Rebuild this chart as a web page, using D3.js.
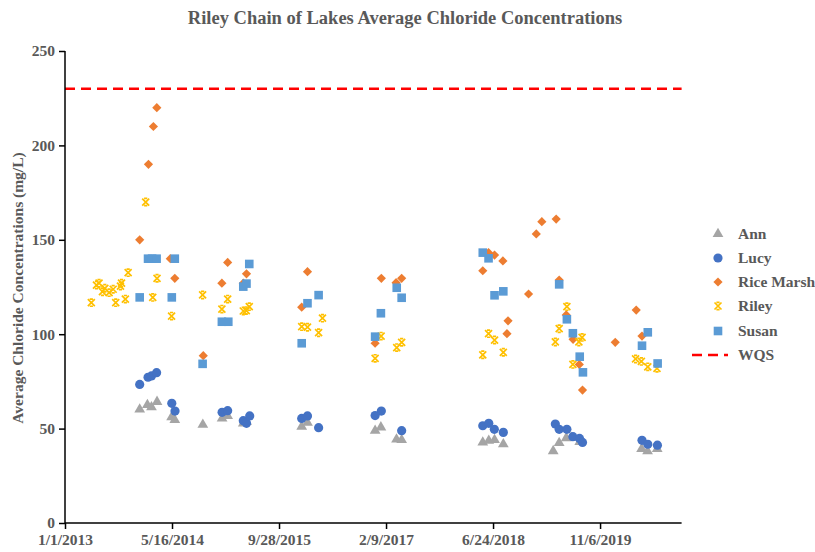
<!DOCTYPE html>
<html><head><meta charset="utf-8">
<script src="https://cdn.jsdelivr.net/npm/d3@7"></script>
<style>
body{margin:0;background:#fff;}
text{font-family:"Liberation Serif","Times New Roman",Times,serif;font-weight:bold;fill:#595959;}
</style></head>
<body><svg id="chart" width="815" height="552"></svg>
<script>
// ---------- data ----------
const title = "Riley Chain of Lakes Average Chloride Concentrations";
const yTitle = "Average Chloride Concentrations (mg/L)";
const seriesNames = ["Ann","Lucy","Rice Marsh","Riley","Susan"];
const seriesColors = ["#A5A5A5","#4472C4","#ED7D31","#FFC000","#5B9BD5"];
const wqsValue = 230;
const yTicks = [0,50,100,150,200,250];
const xTickDates = ["2013-01-01","2014-05-16","2015-09-28","2017-02-09","2018-06-24","2019-11-06"];

const ann = [
 ["2013-12-16",60.2],["2014-01-21",62.5],["2014-02-09",61.3],["2014-03-07",64.2],
 ["2014-05-14",56.0],["2014-05-29",54.6],["2014-10-07",52.1],["2015-01-05",55.4],
 ["2015-01-31",56.7],["2015-04-14",52.8],["2015-04-29",53.5],["2016-01-12",51.1],
 ["2016-02-08",53.1],["2016-12-20",48.9],["2017-01-16",50.7],["2017-03-30",44.3],
 ["2017-04-23",44.0],["2018-05-07",42.7],["2018-06-04",43.6],["2018-07-01",44.0],
 ["2018-08-11",41.8],["2019-04-01",38.1],["2019-04-29",42.4],["2019-06-01",45.0],
 ["2019-06-24",45.2],["2019-08-03",43.0],["2020-05-18",39.2],["2020-06-15",38.0],["2020-07-30",39.2]
];
const lucy = [
 ["2013-12-16",73.4],["2014-01-24",77.2],["2014-02-09",77.9],["2014-03-05",79.6],
 ["2014-05-15",63.4],["2014-05-30",59.3],["2015-01-05",58.6],["2015-01-31",59.5],
 ["2015-04-14",54.2],["2015-04-29",52.8],["2015-05-14",56.7],["2016-01-12",55.4],
 ["2016-02-08",56.7],["2016-03-31",50.5],["2016-12-20",56.9],["2017-01-18",59.3],
 ["2017-04-23",48.9],["2018-05-07",51.5],["2018-06-04",52.8],["2018-06-30",49.6],
 ["2018-08-11",48.0],["2019-04-11",52.4],["2019-04-29",49.6],["2019-06-04",49.6],
 ["2019-07-02",45.7],["2019-08-02",44.8],["2019-08-16",42.7],["2020-05-20",43.8],
 ["2020-06-16",41.7],["2020-07-31",41.2]
];
const riceMarsh = [
 ["2013-12-16",150],["2014-01-26",190],["2014-02-18",210],["2014-03-06",220],
 ["2014-05-08",140],["2014-05-29",129.6],["2014-10-09",88.6],["2015-01-04",127],
 ["2015-01-31",138],["2015-04-14",127],["2015-04-29",132],["2016-01-12",114.3],
 ["2016-02-08",133.1],["2016-12-20",95.2],["2017-01-18",129.6],["2017-03-28",127.3],
 ["2017-04-23",129.6],["2018-05-07",133.6],["2018-06-03",143.2],["2018-07-01",141.9],
 ["2018-08-09",138.8],["2018-08-28",100.3],["2018-09-02",107.1],["2018-12-07",121.3],
 ["2019-01-12",153.1],["2019-02-07",159.6],["2019-04-15",161],["2019-04-29",128.7],
 ["2019-06-01",110.2],["2019-07-03",97.3],["2019-08-01",84],["2019-08-16",70.4],
 ["2020-01-16",95.7],["2020-04-23",112.8],["2020-05-20",99]
];
const riley = [
 ["2013-05-04",116.7],["2013-05-28",126],["2013-06-09",127],["2013-06-25",122.5],
 ["2013-07-06",124.3],["2013-07-26",122],["2013-08-14",123.8],["2013-08-26",116.7],
 ["2013-09-17",125.5],["2013-09-22",127],["2013-10-10",118.6],["2013-10-23",132.6],
 ["2014-01-13",170],["2014-02-15",119.5],["2014-03-07",129.6],["2014-05-14",109.6],
 ["2014-10-06",120.8],["2015-01-04",113.3],["2015-01-31",118.6],["2015-04-14",112.3],
 ["2015-04-28",112.5],["2015-05-12",114.6],["2016-01-12",104],["2016-02-08",103.7],
 ["2016-03-31",100.8],["2016-04-18",108.5],["2016-12-20",87.2],["2017-01-17",99],
 ["2017-03-31",92.9],["2017-04-23",95.7],["2018-05-07",89.1],["2018-06-03",100.3],
 ["2018-07-01",96.9],["2018-08-11",90.4],["2019-04-11",95.9],["2019-04-29",102.9],
 ["2019-06-04",114.6],["2019-07-02",84],["2019-07-30",95.9],["2019-08-14",98.3],
 ["2020-04-20",86.9],["2020-05-17",85.6],["2020-06-16",82.7],["2020-07-29",81.9]
];
const susan = [
 ["2013-12-16",119.5],["2014-01-24",140],["2014-02-12",140],["2014-03-05",140],
 ["2014-05-15",119.5],["2014-05-29",140],["2014-10-06",84.3],["2015-01-04",106.6],
 ["2015-02-03",106.6],["2015-04-14",125.2],["2015-04-29",126.8],["2015-05-12",137.2],
 ["2016-01-12",95.2],["2016-02-08",116.4],["2016-03-31",120.7],["2016-12-20",98.7],
 ["2017-01-16",111.1],["2017-03-31",124.6],["2017-04-23",119.3],["2018-05-07",143.2],
 ["2018-06-03",140.2],["2018-07-01",120.6],["2018-08-11",122.7],["2019-04-29",126.4],
 ["2019-06-04",107.9],["2019-07-02",100.5],["2019-08-03",88.1],["2019-08-18",79.8],
 ["2020-05-20",93.9],["2020-06-16",101],["2020-08-01",84.5]
];
const seriesData = [ann, lucy, riceMarsh, riley, susan];

// ---------- layout ----------
const svg = d3.select("#chart");
const parse = d3.utcParse("%Y-%m-%d");
const pLeft = 65, pRight = 681.6, pTop = 51, pBottom = 523;
const x = d3.scaleUtc().domain([parse("2013-01-01"), parse("2020-11-21")]).range([pLeft, pRight]);
const y = d3.scaleLinear().domain([0,250]).range([pBottom, pTop]);
const fmt = d => (d.getUTCMonth()+1)+"/"+d.getUTCDate()+"/"+d.getUTCFullYear();

svg.append("text").attr("x",405).attr("y",24).attr("text-anchor","middle")
  .style("font-size","18.5px").text(title);

svg.append("text").attr("transform","translate(23,288) rotate(-90)")
  .attr("text-anchor","middle").style("font-size","15.5px").text(yTitle);

// WQS line
svg.append("line").attr("x1",pLeft).attr("x2",pRight)
  .attr("y1",y(wqsValue)).attr("y2",y(wqsValue))
  .attr("stroke","#FF0000").attr("stroke-width",2.5).attr("stroke-dasharray","10,6");

// axes
const yAxis = d3.axisLeft(y).tickValues(yTicks).tickSize(6).tickPadding(4);
const gy = svg.append("g").attr("transform",`translate(${pLeft},0)`).call(yAxis);
const xAxis = d3.axisBottom(x).tickValues(xTickDates.map(parse)).tickFormat(fmt).tickSize(6).tickPadding(5);
const gx = svg.append("g").attr("transform",`translate(0,${pBottom})`).call(xAxis);
[gx,gy].forEach(g=>{
  g.attr("font-family",null);
  g.select(".domain").attr("stroke","#000").attr("stroke-width",1.5);
  g.selectAll(".tick line").attr("stroke","#000").attr("stroke-width",1.5);
  g.selectAll(".tick text").style("font-size","15.5px")
    .style("font-family","'Liberation Serif','Times New Roman',Times,serif")
    .style("font-weight","bold").attr("fill","#595959");
});
gx.select(".domain").attr("d",`M${pLeft},0H${pRight}`);
gy.select(".domain").attr("d",`M0,${pBottom}V${pTop}`);

// markers
const starPath = "M-3.5,-3.5L3.5,3.5M3.5,-3.5L-3.5,3.5M-1.6,-3.6H1.6M-1.6,3.6H1.6";
function drawMarker(g, i, color){
  if(i===0) g.append("path").attr("d",d3.symbol(d3.symbolTriangle,50)()).attr("fill",color);
  else if(i===1) g.append("circle").attr("r",4.6).attr("fill",color);
  else if(i===2) g.append("path").attr("d","M0,-4.6L4.6,0L0,4.6L-4.6,0Z").attr("fill",color);
  else if(i===3) g.append("path").attr("d",starPath).attr("stroke",color).attr("stroke-width",1.7).attr("fill","none");
  else g.append("rect").attr("x",-4.3).attr("y",-4.3).attr("width",8.6).attr("height",8.6).attr("fill",color);
}
seriesData.forEach((data,i)=>{
  const g = svg.append("g");
  g.selectAll("g.pt").data(data).join("g").attr("class","pt")
    .attr("transform",d=>`translate(${x(parse(d[0]))},${y(d[1])})`)
    .each(function(){ drawMarker(d3.select(this), i, seriesColors[i]); });
});

// legend
const legY = [234,258,282,306,331];
seriesNames.forEach((n,i)=>{
  const g = svg.append("g").attr("transform",`translate(718,${legY[i]})`);
  drawMarker(g,i,seriesColors[i]);
  svg.append("text").attr("x",738).attr("y",legY[i]+5).style("font-size","15.5px").text(n);
});
svg.append("line").attr("x1",692).attr("x2",728).attr("y1",355).attr("y2",355)
  .attr("stroke","#FF0000").attr("stroke-width",2.5).attr("stroke-dasharray","10,6");
svg.append("text").attr("x",738).attr("y",360).style("font-size","15.5px").text("WQS");
</script></body></html>
